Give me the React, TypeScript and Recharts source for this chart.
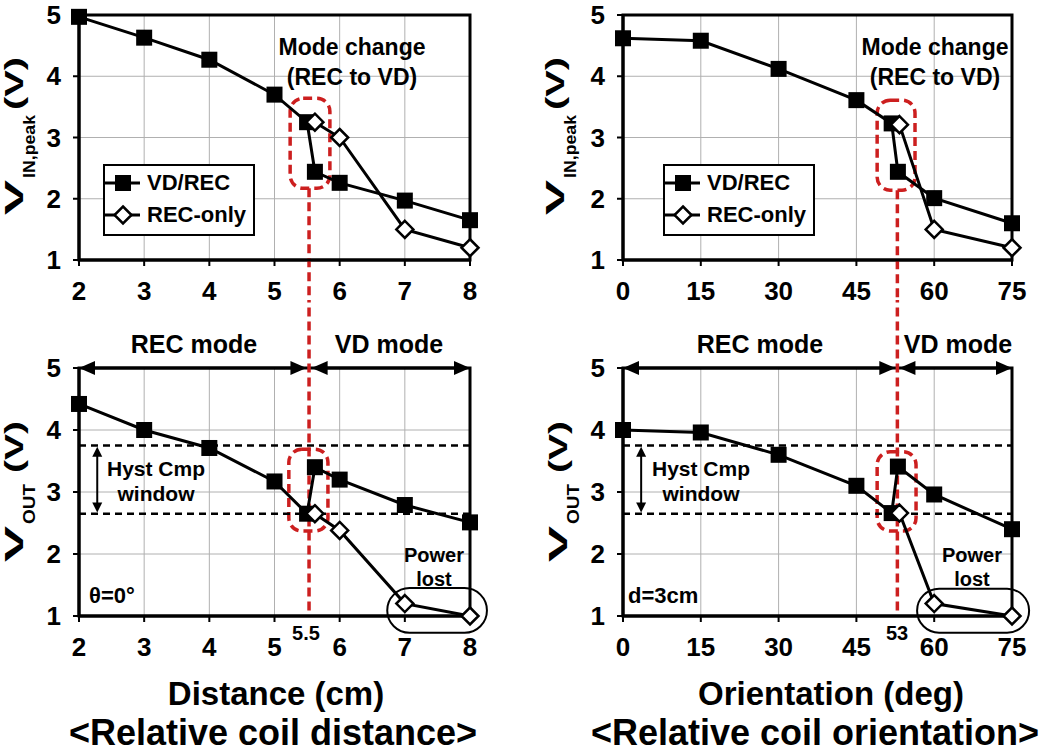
import React from "react";
import {
  LineChart,
  Line,
  XAxis,
  YAxis,
  CartesianGrid,
  ReferenceLine,
  ReferenceArea,
  Legend,
} from "recharts";

// distance sweep (theta = 0)
const distTicks = [2, 3, 4, 5, 6, 7, 8];
const distVdX = [2, 3, 4, 5, 5.5, 5.62, 6, 7, 8];
const distRecX = [5.62, 6, 7, 8];
const distVinVd = [4.97, 4.63, 4.27, 3.7, 3.25, 2.44, 2.26, 1.97, 1.65];
const distVinRec = [3.25, 3.0, 1.5, 1.2];
const distVoutVd = [4.42, 4.0, 3.71, 3.17, 2.65, 3.4, 3.2, 2.79, 2.51];
const distVoutRec = [2.65, 2.38, 1.2, 1.0];

// orientation sweep (d = 3cm)
const angTicks = [0, 15, 30, 45, 60, 75];
const angVdX = [0, 15, 30, 45, 51.8, 53, 60, 75];
const angRecX = [53.3, 60, 75];
const angVinVd = [4.62, 4.58, 4.12, 3.61, 3.23, 2.44, 2.01, 1.6];
const angVinRec = [3.21, 1.5, 1.2];
const angVoutVd = [4.0, 3.96, 3.6, 3.1, 2.66, 3.41, 2.96, 2.4];
const angVoutRec = [2.66, 1.2, 1.0];

const yTicks = [1, 2, 3, 4, 5];
const hystLevels = [3.75, 2.65];
const seriesOrder = ["VD/REC", "REC-only"];
const switchDist = 5.53;
const switchAng = 52.9;

const FONT = "'Liberation Sans', Arial, Helvetica, sans-serif";
const RED = "#cc1f1f";

const pts = (xs: number[], ys: number[]) => xs.map((x, i) => ({ x, y: ys[i] }));

const squareDot = (p: any) => (
  <rect key={`sq-${p.index}`} x={p.cx - 8} y={p.cy - 8} width={16} height={16} fill="#000" />
);

const diamondDot = (p: any) => (
  <polygon
    key={`dm-${p.index}`}
    points={`${p.cx},${p.cy - 8.5} ${p.cx + 8.5},${p.cy} ${p.cx},${p.cy + 8.5} ${p.cx - 8.5},${p.cy}`}
    fill="#fff"
    stroke="#000"
    strokeWidth={2.5}
  />
);

// line with a filled arrowhead on both ends
const arrowShape = (w: number, head: number, half: number) => (p: any) => {
  const { x1, y1, x2, y2 } = p;
  const len = Math.hypot(x2 - x1, y2 - y1) || 1;
  const ux = (x2 - x1) / len;
  const uy = (y2 - y1) / len;
  const tri = (tx: number, ty: number, dir: number) => {
    const bx = tx - dir * ux * head;
    const by = ty - dir * uy * head;
    return `${tx},${ty} ${bx - uy * half},${by + ux * half} ${bx + uy * half},${by - ux * half}`;
  };
  return (
    <g>
      <line
        x1={x1 + ux * head * 0.6}
        y1={y1 + uy * head * 0.6}
        x2={x2 - ux * head * 0.6}
        y2={y2 - uy * head * 0.6}
        stroke="#000"
        strokeWidth={w}
      />
      <polygon points={tri(x1, y1, -1)} fill="#000" />
      <polygon points={tri(x2, y2, 1)} fill="#000" />
    </g>
  );
};

const roundBox = (color: string, dash: string | undefined, w: number, rx?: number) => (p: any) => (
  <rect
    x={p.x}
    y={p.y}
    width={p.width}
    height={p.height}
    rx={rx ?? p.height / 2}
    fill="none"
    stroke={color}
    strokeWidth={w}
    strokeDasharray={dash}
  />
);

const renderLegend = (props: any) => {
  const items = [...(props.payload || [])].sort(
    (a: any, b: any) => seriesOrder.indexOf(a.value) - seriesOrder.indexOf(b.value)
  );
  return (
    <div
      style={{
        width: 152,
        height: 72,
        boxSizing: "border-box",
        border: "2.5px solid #000",
        background: "#fff",
        paddingTop: 1,
        fontFamily: FONT,
      }}
    >
      {items.map((entry: any) => (
        <div key={entry.value} style={{ display: "flex", alignItems: "center", height: 32 }}>
          <svg width={40} height={28}>
            <line x1={0} y1={14} x2={35} y2={14} stroke="#000" strokeWidth={3} />
            {entry.value === "VD/REC" ? (
              <rect x={10} y={6} width={16} height={16} fill="#000" />
            ) : (
              <polygon points="18,5.5 26.5,14 18,22.5 9.5,14" fill="#fff" stroke="#000" strokeWidth={2.5} />
            )}
          </svg>
          <span style={{ marginLeft: 2, fontSize: 22, fontWeight: 700, color: "#000" }}>{entry.value}</span>
        </div>
      ))}
    </div>
  );
};

const tickStyle = { fontSize: 26, fontWeight: 700, fill: "#000", fontFamily: FONT };

interface PanelProps {
  left: number;
  top: number;
  height: number;
  mTop: number;
  xHeight: number;
  mRight: number;
  yWidth: number;
  xDomain: [number, number];
  xTicks: number[];
  vd: { x: number; y: number }[];
  rec: { x: number; y: number }[];
  legendLeft?: number;
  children?: React.ReactNode;
}

function Panel(props: PanelProps) {
  const { left, top, height, mTop, xHeight, mRight, yWidth, xDomain, xTicks, vd, rec, legendLeft, children } =
    props;
  return (
    <div style={{ position: "absolute", left, top }}>
      <LineChart width={525} height={height} margin={{ top: mTop, right: mRight, bottom: 0, left: 0 }}>
        <CartesianGrid stroke="#b0b0b0" strokeWidth={1} />
        <XAxis
          type="number"
          dataKey="x"
          domain={xDomain}
          ticks={xTicks}
          interval={0}
          height={xHeight}
          tickSize={6}
          tickMargin={16}
          axisLine={{ stroke: "#000", strokeWidth: 3 }}
          tickLine={{ stroke: "#000", strokeWidth: 2 }}
          tick={tickStyle}
        />
        <YAxis
          type="number"
          domain={[1, 5]}
          ticks={yTicks}
          interval={0}
          width={yWidth}
          tickSize={6}
          tickMargin={12}
          axisLine={{ stroke: "#000", strokeWidth: 3 }}
          tickLine={{ stroke: "#000", strokeWidth: 2 }}
          tick={tickStyle}
        />
        <ReferenceArea
          x1={xDomain[0]}
          x2={xDomain[1]}
          y1={1}
          y2={5}
          ifOverflow="visible"
          shape={roundBox("#000", undefined, 3, 0)}
        />
        {children}
        <Line
          data={vd}
          dataKey="y"
          name="VD/REC"
          stroke="#000"
          strokeWidth={3}
          dot={squareDot}
          activeDot={false}
          isAnimationActive={false}
        />
        <Line
          data={rec}
          dataKey="y"
          name="REC-only"
          stroke="#000"
          strokeWidth={3}
          dot={diamondDot}
          activeDot={false}
          isAnimationActive={false}
        />
        {legendLeft !== undefined && (
          <Legend
            layout="horizontal"
            verticalAlign="middle"
            align="center"
            content={renderLegend}
            wrapperStyle={{ left: legendLeft, top: 164, width: 152, height: 72 }}
          />
        )}
      </LineChart>
    </div>
  );
}

function YLabel({ x, bottom, main, sub, rest, lens }: any) {
  const [lv, ls, lr, gap] = lens;
  return (
    <g transform={`translate(${x},${bottom}) rotate(-90)`} fontFamily={FONT} fontWeight={700} fill="#000">
      <text x={0} y={0} fontSize={26} textLength={lv} lengthAdjust="spacingAndGlyphs">
        {main}
      </text>
      <text x={lv + 2} y={12} fontSize={17} textLength={ls} lengthAdjust="spacingAndGlyphs">
        {sub}
      </text>
      <text x={lv + 2 + ls + gap} y={0} fontSize={26} textLength={lr} lengthAdjust="spacingAndGlyphs">
        {rest}
      </text>
    </g>
  );
}

const T = ({ x, y, s, a = "middle", children }: any) => (
  <text x={x} y={y} fontSize={s} textAnchor={a} fontFamily={FONT} fontWeight={700} fill="#000">
    {children}
  </text>
);

export default function App() {
  const redLine = { stroke: RED, strokeWidth: 3.5, strokeDasharray: "9 5" };
  return (
    <div
      style={{
        position: "absolute",
        left: 0,
        top: 0,
        width: 1050,
        height: 754,
        background: "#fff",
        fontFamily: FONT,
      }}
    >
      {/* V_IN,peak vs distance */}
      <Panel
        left={0}
        top={0}
        height={320}
        mTop={15}
        xHeight={60}
        mRight={55}
        yWidth={79}
        xDomain={[2, 8]}
        xTicks={distTicks}
        vd={pts(distVdX, distVinVd)}
        rec={pts(distRecX, distVinRec)}
        legendLeft={103}
      >
        <ReferenceArea x1={5.24} x2={5.85} y1={3.64} y2={2.17} ifOverflow="visible" shape={roundBox(RED, "9 5", 3.5, 13)} />
        <ReferenceLine segment={[{ x: switchDist, y: 2.17 }, { x: switchDist, y: 0.35 }]} ifOverflow="visible" {...redLine} />
      </Panel>

      {/* V_IN,peak vs orientation */}
      <Panel
        left={525}
        top={0}
        height={320}
        mTop={15}
        xHeight={60}
        mRight={38}
        yWidth={98}
        xDomain={[0, 75]}
        xTicks={angTicks}
        vd={pts(angVdX, angVinVd)}
        rec={pts(angRecX, angVinRec)}
        legendLeft={138}
      >
        <ReferenceArea x1={49} x2={56.3} y1={3.61} y2={2.14} ifOverflow="visible" shape={roundBox(RED, "9 5", 3.5, 13)} />
        <ReferenceLine segment={[{ x: switchAng, y: 2.14 }, { x: switchAng, y: 0.35 }]} ifOverflow="visible" {...redLine} />
      </Panel>

      {/* V_OUT vs distance */}
      <Panel
        left={0}
        top={300}
        height={376}
        mTop={68}
        xHeight={60}
        mRight={55}
        yWidth={79}
        xDomain={[2, 8]}
        xTicks={distTicks}
        vd={pts(distVdX, distVoutVd)}
        rec={pts(distRecX, distVoutRec)}
      >
        {hystLevels.map((v) => (
          <ReferenceLine key={v} y={v} stroke="#000" strokeWidth={2.5} strokeDasharray="7 5" />
        ))}
        <ReferenceLine segment={[{ x: 2.28, y: 3.73 }, { x: 2.28, y: 2.67 }]} ifOverflow="visible" shape={arrowShape(2, 10, 5)} />
        <ReferenceLine segment={[{ x: 2, y: 5 }, { x: 5.49, y: 5 }]} ifOverflow="visible" shape={arrowShape(3, 16, 7)} />
        <ReferenceLine segment={[{ x: 5.57, y: 5 }, { x: 8, y: 5 }]} ifOverflow="visible" shape={arrowShape(3, 16, 7)} />
        <ReferenceArea x1={6.73} x2={8.26} y1={1.45} y2={0.73} ifOverflow="visible" shape={roundBox("#000", undefined, 2)} />
        <ReferenceArea x1={5.22} x2={5.82} y1={3.69} y2={2.37} ifOverflow="visible" shape={roundBox(RED, "9 5", 3.5, 13)} />
        <ReferenceLine segment={[{ x: switchDist, y: 6.2 }, { x: switchDist, y: 1 }]} ifOverflow="visible" {...redLine} />
      </Panel>

      {/* V_OUT vs orientation */}
      <Panel
        left={525}
        top={300}
        height={376}
        mTop={68}
        xHeight={60}
        mRight={38}
        yWidth={98}
        xDomain={[0, 75]}
        xTicks={angTicks}
        vd={pts(angVdX, angVoutVd)}
        rec={pts(angRecX, angVoutRec)}
      >
        {hystLevels.map((v) => (
          <ReferenceLine key={v} y={v} stroke="#000" strokeWidth={2.5} strokeDasharray="7 5" />
        ))}
        <ReferenceLine segment={[{ x: 3.5, y: 3.73 }, { x: 3.5, y: 2.67 }]} ifOverflow="visible" shape={arrowShape(2, 10, 5)} />
        <ReferenceLine segment={[{ x: 0, y: 5 }, { x: 52.5, y: 5 }]} ifOverflow="visible" shape={arrowShape(3, 16, 7)} />
        <ReferenceLine segment={[{ x: 53.3, y: 5 }, { x: 75, y: 5 }]} ifOverflow="visible" shape={arrowShape(3, 16, 7)} />
        <ReferenceArea x1={56.7} x2={78.3} y1={1.44} y2={0.73} ifOverflow="visible" shape={roundBox("#000", undefined, 2)} />
        <ReferenceArea x1={49} x2={56.5} y1={3.65} y2={2.37} ifOverflow="visible" shape={roundBox(RED, "9 5", 3.5, 13)} />
        <ReferenceLine segment={[{ x: switchAng, y: 6.2 }, { x: switchAng, y: 1 }]} ifOverflow="visible" {...redLine} />
      </Panel>

      <svg
        width={1050}
        height={754}
        style={{ position: "absolute", left: 0, top: 0, pointerEvents: "none" }}
      >
        <YLabel x={23} bottom={215} main="V" sub="IN,peak" rest="(V)" lens={[35, 63, 53, 5]} />
        <YLabel x={564} bottom={215} main="V" sub="IN,peak" rest="(V)" lens={[35, 63, 53, 5]} />
        <YLabel x={23} bottom={562} main="V" sub="OUT" rest="(V)" lens={[36, 40, 52, 11]} />
        <YLabel x={567} bottom={562} main="V" sub="OUT" rest="(V)" lens={[36, 40, 52, 11]} />

        <T x={352} y={55} s={23}>Mode change</T>
        <T x={352} y={85} s={23}>(REC to VD)</T>
        <T x={935} y={55} s={23}>Mode change</T>
        <T x={935} y={85} s={23}>(REC to VD)</T>

        <T x={194} y={353} s={25}>REC mode</T>
        <T x={389} y={353} s={25}>VD mode</T>
        <T x={760} y={353} s={25}>REC mode</T>
        <T x={958} y={353} s={25}>VD mode</T>

        <T x={156} y={476} s={21}>Hyst Cmp</T>
        <T x={156} y={501} s={21}>window</T>
        <T x={701} y={476} s={21}>Hyst Cmp</T>
        <T x={701} y={501} s={21}>window</T>

        <T x={89} y={603} s={22} a="start">θ=0°</T>
        <T x={628} y={603} s={22} a="start">d=3cm</T>

        <T x={434} y={562} s={20}>Power</T>
        <T x={434} y={586} s={20}>lost</T>
        <T x={972} y={562} s={20}>Power</T>
        <T x={972} y={586} s={20}>lost</T>

        <T x={306} y={640} s={20}>5.5</T>
        <T x={897} y={640} s={20}>53</T>

        <T x={276} y={705} s={33}>Distance (cm)</T>
        <T x={831} y={705} s={33}>Orientation (deg)</T>
        <T x={273} y={745} s={36}>&lt;Relative coil distance&gt;</T>
        <T x={815} y={745} s={36}>&lt;Relative coil orientation&gt;</T>
      </svg>
    </div>
  );
}
